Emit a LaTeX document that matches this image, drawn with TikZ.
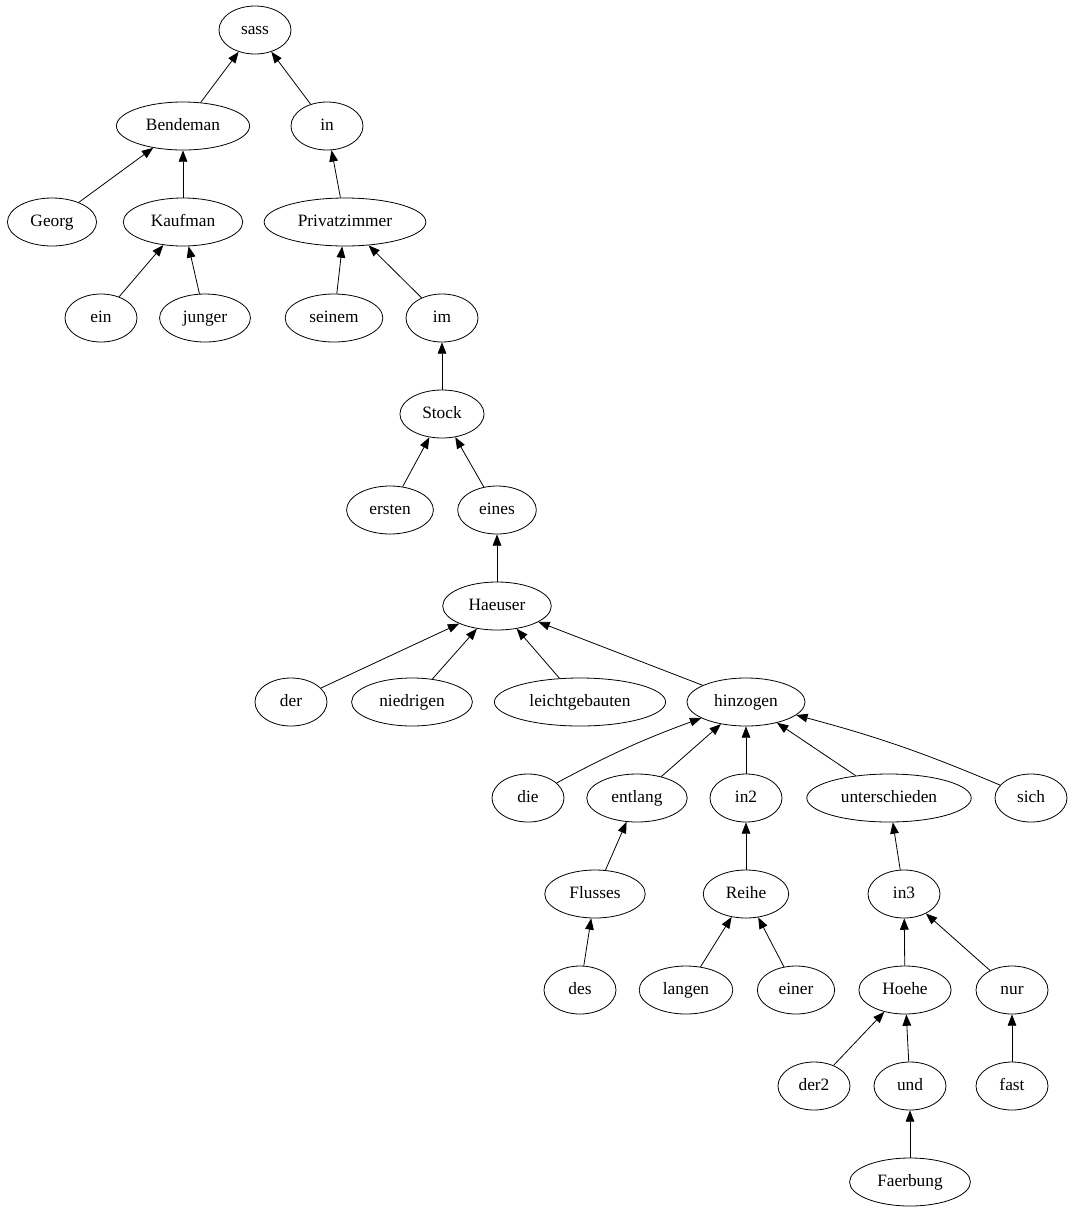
\documentclass[tikz,border=0pt]{standalone}
\usepackage{fontspec}
\setmainfont{Liberation Serif}
\usepackage{tikz}
\usetikzlibrary{arrows.meta, shapes.geometric}
\tikzset{%
  word/.style={%
    ellipse,%
    draw=black,%
    line width=0.6pt,%
    minimum width=54pt,%
    minimum height=36pt,%
    inner xsep=7.5pt,%
    inner ysep=1pt,%
    text height=1.7ex,%
    text depth=0.1ex,%
    font={\fontsize{13}{15}\selectfont},%
  },
  edge/.style={%
    line width=0.6pt,%
    -{Triangle[length=8.5pt, width=6.5pt]},%
  },
}
\begin{document}
\begin{tikzpicture}[x=0.75pt, y=-0.75pt]

    \useasboundingbox (0, 0) rectangle (1073, 1211);

    % row 0 - 2
    \node [word] (sass) at (255, 30) {sass};
    \node [word] (Bendeman) at (183, 126) {Bendeman};
    \node [word] (in) at (327, 126) {in};
    \node [word] (Georg) at (52, 222) {Georg};
    \node [word] (Kaufman) at (183, 222) {Kaufman};
    \node [word] (Privatzimmer) at (345, 222) {Privatzimmer};

    % row 3 - 5
    \node [word] (ein) at (101, 318) {ein};
    \node [word] (junger) at (205, 318) {junger};
    \node [word] (seinem) at (334, 318) {seinem};
    \node [word] (im) at (442, 318) {im};
    \node [word] (Stock) at (442, 414) {Stock};
    \node [word] (ersten) at (390, 510) {ersten};
    \node [word] (eines) at (497, 510) {eines};

    % row 6 - 7
    \node [word] (Haeuser) at (497, 606) {Haeuser};
    \node [word] (der) at (291, 702) {der};
    \node [word] (niedrigen) at (412, 702) {niedrigen};
    \node [word] (leichtgebauten) at (580, 702) {leichtgebauten};
    \node [word] (hinzogen) at (746, 702) {hinzogen};

    % row 8 - 9
    \node [word] (die) at (528, 798) {die};
    \node [word] (entlang) at (637, 798) {entlang};
    \node [word] (in2) at (746, 798) {in2};
    \node [word] (unterschieden) at (889, 798) {unterschieden};
    \node [word] (sich) at (1031, 798) {sich};
    \node [word] (Flusses) at (595, 894) {Flusses};
    \node [word] (Reihe) at (746, 894) {Reihe};
    \node [word] (in3) at (904, 894) {in3};

    % row 10 - 12
    \node [word] (des) at (580, 990) {des};
    \node [word] (langen) at (686, 990) {langen};
    \node [word] (einer) at (796, 990) {einer};
    \node [word] (Hoehe) at (905, 990) {Hoehe};
    \node [word] (nur) at (1012, 990) {nur};
    \node [word] (der2) at (814, 1086) {der2};
    \node [word] (und) at (910, 1086) {und};
    \node [word] (fast) at (1012, 1086) {fast};
    \node [word] (Faerbung) at (910, 1182) {Faerbung};

    \draw [edge] (Bendeman) -- (sass);
    \draw [edge] (in) -- (sass);
    \draw [edge] (Georg) -- (Bendeman);
    \draw [edge] (Kaufman) -- (Bendeman);
    \draw [edge] (Privatzimmer) -- (in);
    \draw [edge] (ein) -- (Kaufman);
    \draw [edge] (junger) -- (Kaufman);
    \draw [edge] (seinem) -- (Privatzimmer);
    \draw [edge] (im) -- (Privatzimmer);
    \draw [edge] (Stock) -- (im);
    \draw [edge] (ersten) -- (Stock);
    \draw [edge] (eines) -- (Stock);
    \draw [edge] (Haeuser) -- (eines);
    \draw [edge] (der) -- (Haeuser);
    \draw [edge] (niedrigen) -- (Haeuser);
    \draw [edge] (leichtgebauten) -- (Haeuser);
    \draw [edge] (hinzogen) -- (Haeuser);
    \draw [edge] (die) to [bend left=4] (hinzogen);
    \draw [edge] (entlang) -- (hinzogen);
    \draw [edge] (in2) -- (hinzogen);
    \draw [edge] (unterschieden) -- (hinzogen);
    \draw [edge] (sich) to [bend right=4] (hinzogen);
    \draw [edge] (Flusses) -- (entlang);
    \draw [edge] (Reihe) -- (in2);
    \draw [edge] (in3) -- (unterschieden);
    \draw [edge] (des) -- (Flusses);
    \draw [edge] (langen) -- (Reihe);
    \draw [edge] (einer) -- (Reihe);
    \draw [edge] (Hoehe) -- (in3);
    \draw [edge] (nur) -- (in3);
    \draw [edge] (der2) -- (Hoehe);
    \draw [edge] (und) -- (Hoehe);
    \draw [edge] (fast) -- (nur);
    \draw [edge] (Faerbung) -- (und);
  \end{tikzpicture}
\end{document}
